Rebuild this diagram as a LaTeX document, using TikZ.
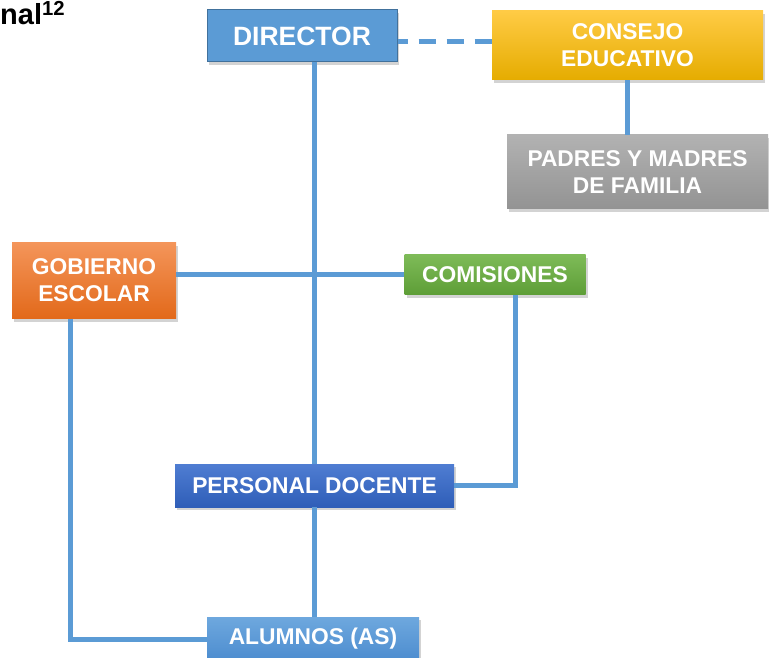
\documentclass[tikz,border=0pt]{standalone}
\usepackage{fontspec}
\setmainfont{Liberation Sans}
\usetikzlibrary{shadows,calc}
\definecolor{lineblue}{HTML}{5B9BD5}
\definecolor{dirblue}{HTML}{5B9BD5}
\definecolor{dirborder}{HTML}{41719C}
\definecolor{goldtop}{HTML}{FFCB45}
\definecolor{goldmid}{HTML}{FFC000}
\definecolor{goldbot}{HTML}{E5AC00}
\definecolor{graytop}{HTML}{B2B2B2}
\definecolor{graybot}{HTML}{939393}
\definecolor{orangetop}{HTML}{F4955A}
\definecolor{orangebot}{HTML}{E2691A}
\definecolor{greentop}{HTML}{7EBB58}
\definecolor{greenbot}{HTML}{5E9E37}
\definecolor{darkbluetop}{HTML}{4F7DD2}
\definecolor{darkbluebot}{HTML}{2F5EB8}
\definecolor{lightbluetop}{HTML}{6EA8DE}
\definecolor{lightbluebot}{HTML}{4C8CCF}
\tikzset{
  box/.style={rectangle, inner sep=0pt, align=center, text=white,
    font=\bfseries\fontsize{22.8}{27}\selectfont,
    drop shadow={opacity=0.35, shadow xshift=2pt, shadow yshift=-3pt}},
  conn/.style={draw=lineblue, line width=5pt},
}
\begin{document}
\begin{tikzpicture}[x=1pt,y=-1pt]
\useasboundingbox (0,0) rectangle (769,658);
\node[anchor=base west, font=\bfseries\fontsize{29}{32}\selectfont, inner sep=0pt] (title) at (0,25) {nal\textsuperscript{12}};
\node[box, fill=dirblue, draw=dirborder, line width=1pt, minimum width=190pt, minimum height=52pt,
  font=\bfseries\fontsize{26.5}{30}\selectfont] (director) at (302,36) {DIRECTOR};
\node[box, top color=goldtop, middle color=goldmid, bottom color=goldbot,
  minimum width=271pt, minimum height=69pt] (consejo) at (627.5,45.5) {CONSEJO\\EDUCATIVO};
\node[box, top color=graytop, bottom color=graybot,
  minimum width=261pt, minimum height=74pt] (padres) at (637.5,172) {PADRES Y MADRES\\DE FAMILIA};
\node[box, top color=orangetop, bottom color=orangebot,
  minimum width=164pt, minimum height=76pt] (gob) at (94,280.5) {GOBIERNO\\ESCOLAR};
\node[box, top color=greentop, bottom color=greenbot,
  minimum width=181pt, minimum height=40pt] (com) at (495,274.5) {COMISIONES};
\node[box, top color=darkbluetop, bottom color=darkbluebot,
  minimum width=279pt, minimum height=43pt] (personal) at (314.5,485.5) {PERSONAL DOCENTE};
\node[box, top color=lightbluetop, bottom color=lightbluebot,
  minimum width=212pt, minimum height=44pt] (alumnos) at (313,639) {ALUMNOS (AS)};
% connectors
\draw[conn] (personal.north |- director.south) -- (personal.north);
\draw[conn, dash pattern=on 17pt off 11pt, dash phase=7pt] ([yshift=-6pt]director.east) -- ([yshift=-6pt]director.east -| consejo.west);
\draw[conn] (consejo.south) -- (consejo.south |- padres.north);
\draw[conn] (gob.east |- com.west) -- (com.west);
\draw[conn] ([xshift=20pt]com.south) |- (personal.east);
\draw[conn] (personal.south) -- (personal.south |- alumnos.north);
\draw[conn] ([xshift=-24pt]gob.south) |- (alumnos.west);
\end{tikzpicture}
\end{document}
